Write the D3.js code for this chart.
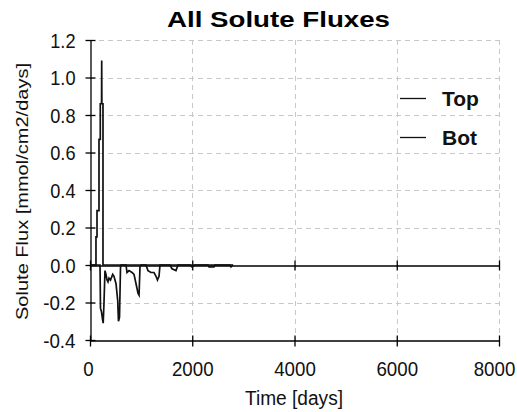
<!DOCTYPE html>
<html>
<head>
<meta charset="utf-8">
<script src="https://cdn.jsdelivr.net/npm/d3@7"></script>
<style>
  html, body { margin: 0; padding: 0; background: #fff; }
  svg { display: block; }
</style>
</head>
<body>
<svg id="chart" width="517" height="412"></svg>
<script>
// Solute flux time series (days, mmol/cm2/days)
const topDays = [0, 117, 117, 137, 137, 176, 176, 201, 201, 226, 229, 232, 254, 254, 2800];
const topFlux = [0, 0, 0.15, 0.15, 0.29, 0.29, 0.67, 0.67, 0.86, 0.86, 1.09, 0.86, 0.86, 0, 0];

const botDays = [0, 196, 205, 225, 245, 258, 274, 293, 313, 333, 352, 372, 401, 444, 469, 509, 542, 557, 577, 597, 606,
                 704, 724, 763, 822, 861, 900, 939, 959, 978, 998, 1095, 1134, 1193, 1252, 1291, 1320, 1350, 1369,
                 1565, 1604, 1682, 1721, 1956, 1995, 2054, 2308, 2328, 2425, 2445, 2739, 2758, 2797];
const botFlux = [0, 0, -0.23, -0.25, -0.29, -0.31, -0.20, -0.03, -0.05, -0.08, -0.09, -0.07, -0.08, -0.05, -0.06, -0.10, -0.19, -0.30, -0.28, -0.01, 0,
                 0, -0.04, -0.03, -0.04, -0.05, -0.10, -0.15, -0.16, -0.01, 0, 0, -0.03, -0.04, -0.04, -0.06, -0.08, -0.06, 0,
                 0, -0.02, -0.03, 0, 0, -0.01, 0, 0, -0.01, -0.01, 0, 0, -0.01, 0];

const xTicks = [0, 2000, 4000, 6000, 8000];
const yTicks = [-0.4, -0.2, 0.0, 0.2, 0.4, 0.6, 0.8, 1.0, 1.2];
const seriesNames = ["Top", "Bot"];

const svg = d3.select("#chart");
const plotLeft = 90, plotRight = 499, plotTop = 40, plotBottom = 340;

const x = d3.scaleLinear().domain([0, 8000]).range([plotLeft, plotRight]);
const y = d3.scaleLinear().domain([-0.4, 1.2]).range([plotBottom, plotTop]);

const font = "'Liberation Sans', Arial, sans-serif";
// narrow, tall tick lettering: fixed advance per character
const labelWidth = s => Array.from(s).reduce((w, c) => w + (c === "." ? 4.5 : c === "-" ? 7 : 10.4), 0);
const fmtY = d => d3.format(".1f")(d).replace("\u2212", "-");

// dashed grid
const grid = svg.append("g").attr("stroke", "#c8c8c8").attr("stroke-width", 1).attr("stroke-dasharray", "5,4");
grid.selectAll("line.h").data(yTicks.filter(d => d !== -0.4 && d !== 0)).enter().append("line")
  .attr("x1", plotLeft).attr("x2", plotRight)
  .attr("y1", d => Math.round(y(d)) + 0.5).attr("y2", d => Math.round(y(d)) + 0.5);
grid.selectAll("line.v").data(xTicks.filter(d => d !== 0)).enter().append("line")
  .attr("y1", plotTop).attr("y2", plotBottom)
  .attr("x1", d => Math.round(x(d)) + 0.5).attr("x2", d => Math.round(x(d)) + 0.5);

// y axis with crossing ticks
const yAxis = svg.append("g")
  .attr("transform", `translate(${plotLeft + 0.5},0)`)
  .call(d3.axisLeft(y).tickValues(yTicks).tickFormat(fmtY).tickSize(0).tickPadding(15));
yAxis.select(".domain").attr("stroke", "#000").attr("stroke-width", 1.3);
yAxis.selectAll(".tick line").attr("x1", -5).attr("x2", 5).attr("stroke", "#000").attr("stroke-width", 1.3);
yAxis.selectAll(".tick text").attr("font-family", font).attr("font-size", 20).attr("fill", "#111")
  .attr("dy", "0.36em")
  .attr("textLength", function () { return labelWidth(this.textContent); })
  .attr("lengthAdjust", "spacingAndGlyphs");

// bottom x axis with labels
const xAxis = svg.append("g")
  .attr("transform", `translate(0,${plotBottom + 0.5})`)
  .call(d3.axisBottom(x).tickValues(xTicks).tickFormat(d3.format("d")).tickSize(0).tickPadding(21));
xAxis.select(".domain").attr("stroke", "#000").attr("stroke-width", 1.3);
xAxis.selectAll(".tick line").attr("y1", -5).attr("y2", 6).attr("stroke", "#000").attr("stroke-width", 1.3);
xAxis.selectAll(".tick text").attr("font-family", font).attr("font-size", 20).attr("fill", "#111")
  .attr("textLength", function () { return labelWidth(this.textContent); })
  .attr("lengthAdjust", "spacingAndGlyphs")
  .attr("x", d => (d === 0 ? -2 : d === 8000 ? -5 : 0));

// zero line axis
const zAxis = svg.append("g")
  .attr("transform", `translate(0,${Math.round(y(0)) + 0.5})`)
  .call(d3.axisBottom(x).tickValues(xTicks).tickFormat("").tickSize(0));
zAxis.select(".domain").attr("stroke", "#000").attr("stroke-width", 1.3);
zAxis.selectAll(".tick line").attr("y1", -5).attr("y2", 5).attr("stroke", "#000").attr("stroke-width", 1.3);

// series
const line = d3.line().x(d => x(d[0])).y(d => y(d[1]));
const topPts = topDays.map((d, i) => [d, topFlux[i]]);
const botPts = botDays.map((d, i) => [d, botFlux[i]]);
[botPts, topPts].forEach(pts => {
  svg.append("path").datum(pts).attr("d", line)
    .attr("fill", "none").attr("stroke", "#111").attr("stroke-width", 1.7).attr("stroke-linejoin", "miter");
});

// title
svg.append("text").attr("x", 278.5).attr("y", 27).attr("text-anchor", "middle")
  .attr("font-family", font).attr("font-weight", "bold").attr("font-size", 22)
  .attr("textLength", 223).attr("lengthAdjust", "spacingAndGlyphs")
  .text("All Solute Fluxes");

// axis titles
svg.append("text").attr("x", 294).attr("y", 405).attr("text-anchor", "middle")
  .attr("font-family", font).attr("font-size", 20).attr("fill", "#111")
  .attr("textLength", 98).attr("lengthAdjust", "spacingAndGlyphs")
  .text("Time [days]");
svg.append("text").attr("transform", "translate(28,191.5) rotate(-90)").attr("text-anchor", "middle")
  .attr("font-family", font).attr("font-size", 16).attr("fill", "#111")
  .attr("textLength", 257).attr("lengthAdjust", "spacingAndGlyphs")
  .text("Solute Flux [mmol/cm2/days]");

// legend
const legend = svg.append("g");
seriesNames.forEach((name, i) => {
  const ly = 98 + i * 39;
  legend.append("line").attr("x1", 400).attr("x2", 426).attr("y1", ly + 0.5).attr("y2", ly + 0.5)
    .attr("stroke", "#111").attr("stroke-width", 1.3);
  legend.append("text").attr("x", 442).attr("y", ly + 8)
    .attr("font-family", font).attr("font-weight", "bold").attr("font-size", 21)
    .attr("fill", "#111").text(name);
});
</script>
</body>
</html>
